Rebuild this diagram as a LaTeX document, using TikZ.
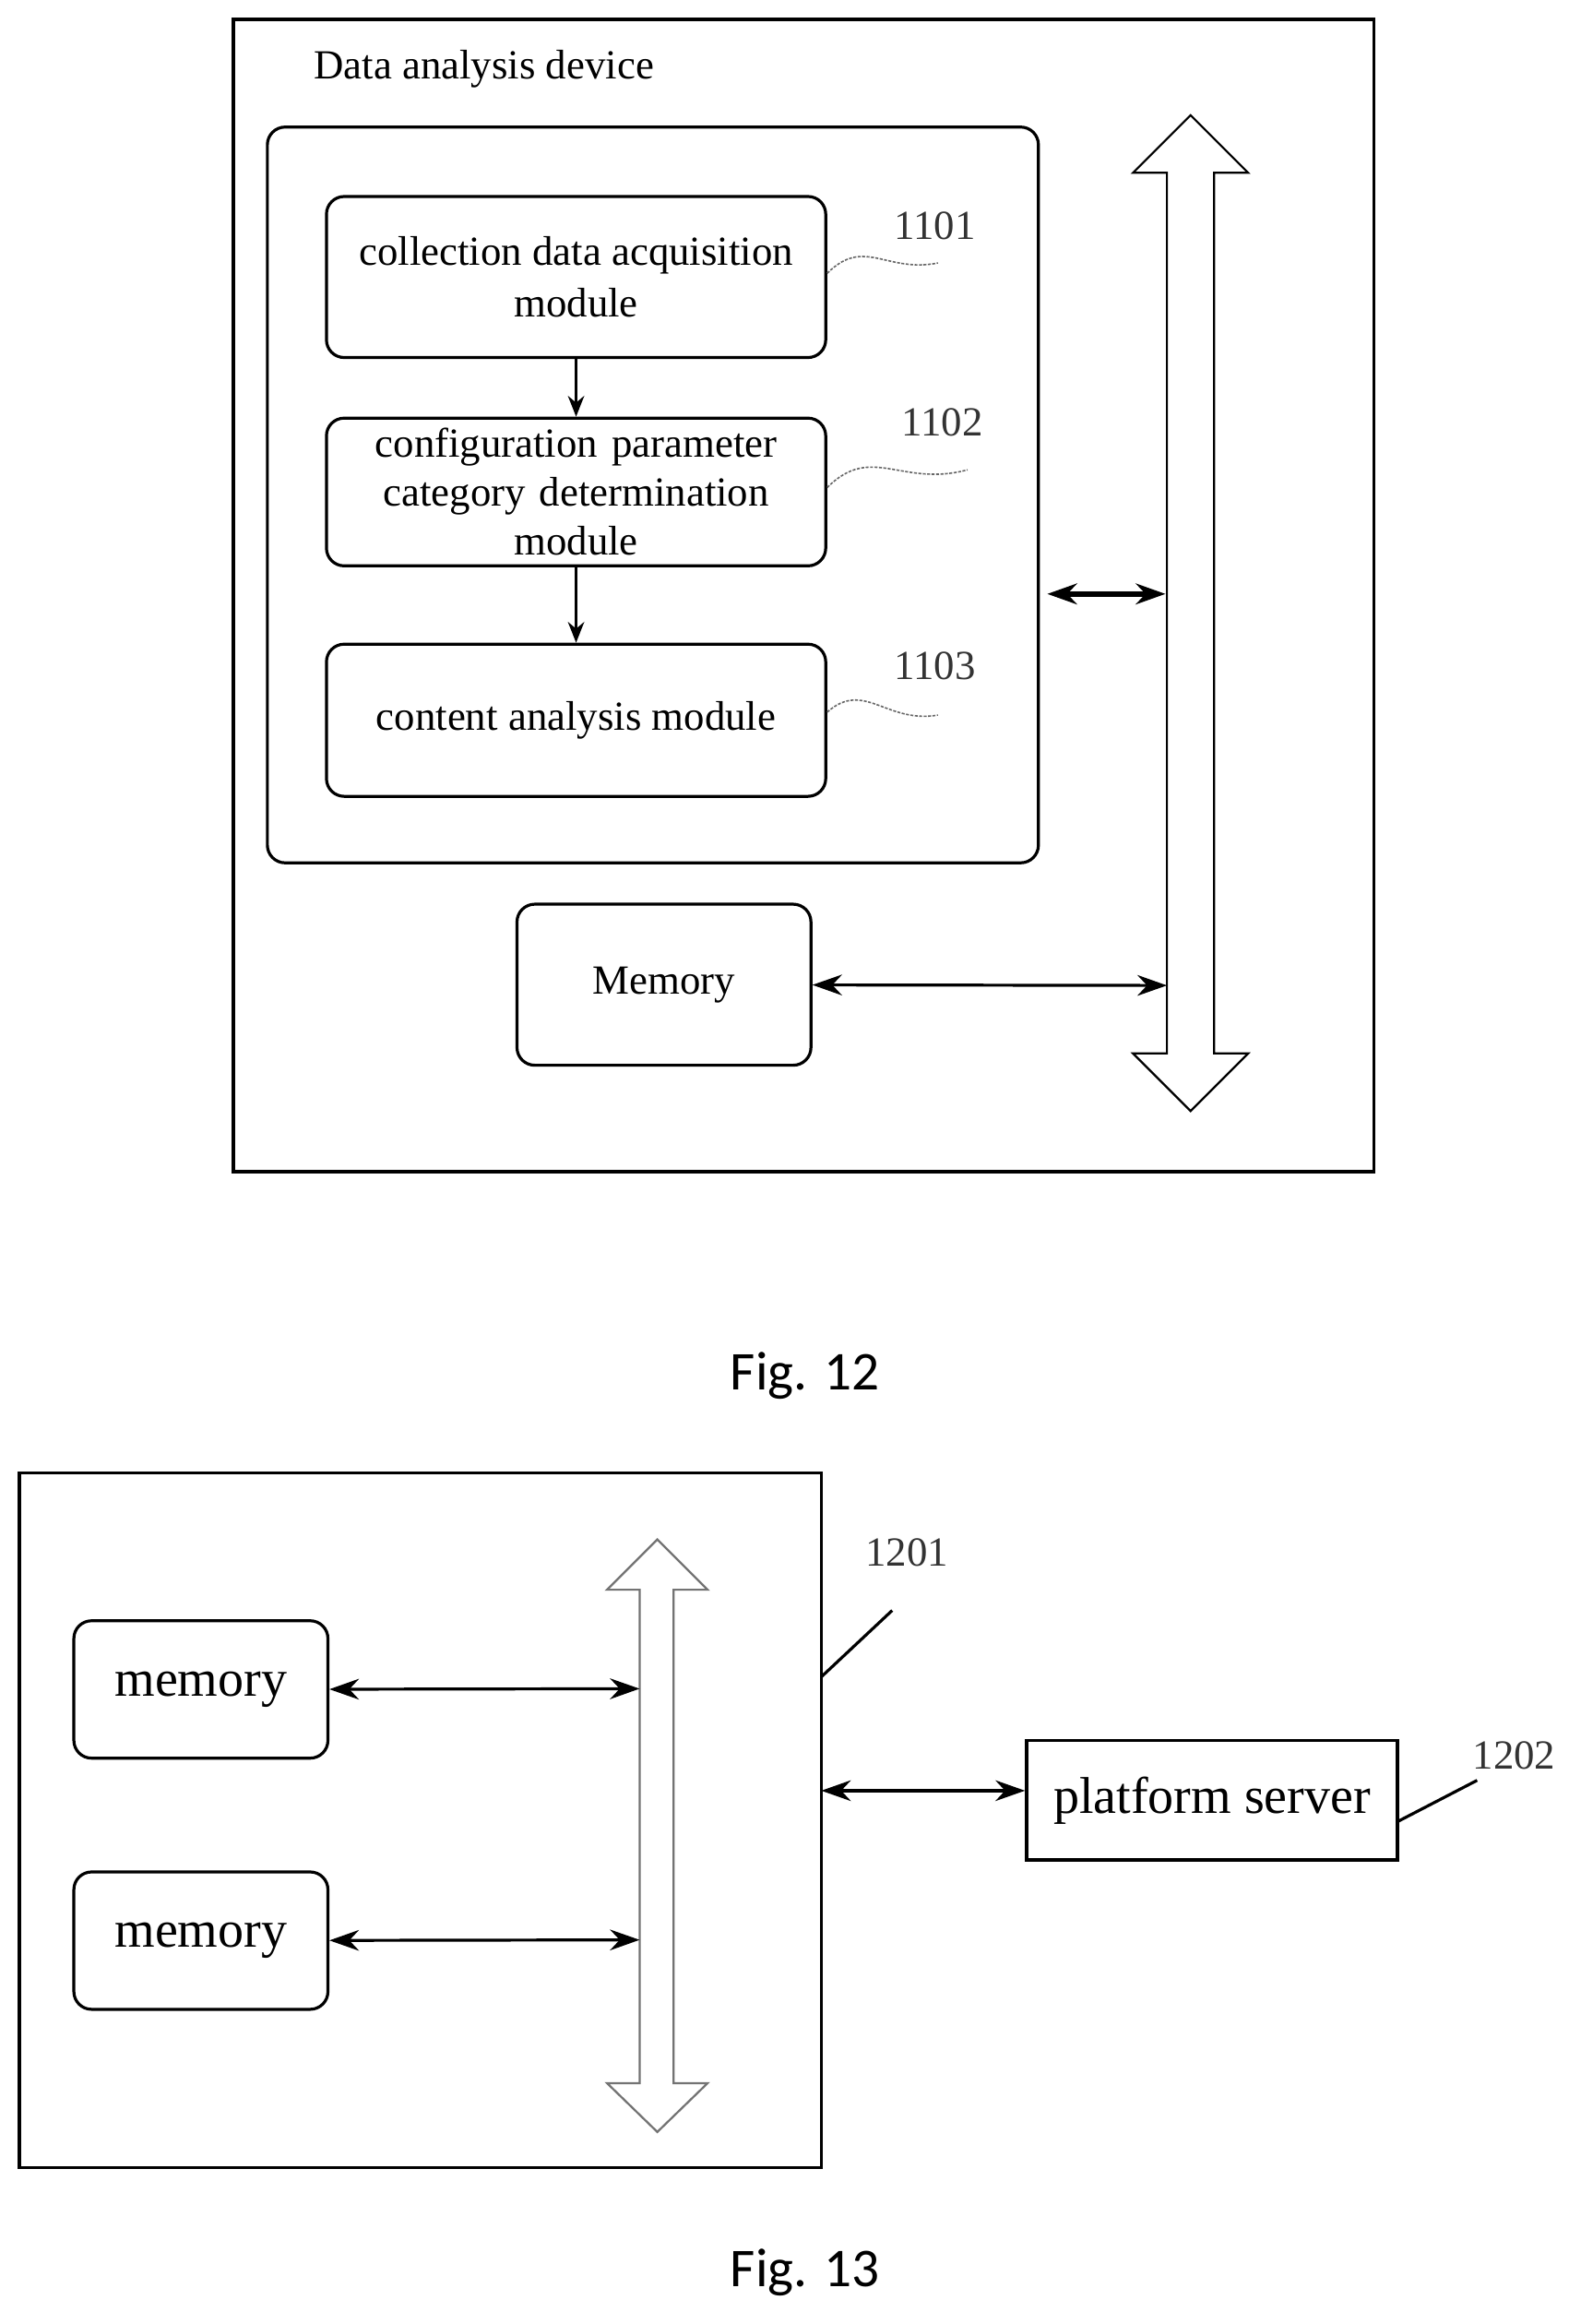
\documentclass[tikz,border=0pt]{standalone}
\usepackage{fontspec}
\setmainfont{Liberation Serif}
\newfontfamily\figfont{Carlito}
\usetikzlibrary{arrows.meta}
\begin{document}
\begin{tikzpicture}[x=1pt,y=-1pt,
  box/.style={draw,line width=2pt,rounded corners=12pt},
  sq/.style={draw,line width=2.2pt},
  txt/.style={font=\fontsize{28}{35}\selectfont,align=center},
  num/.style={font=\fontsize{28}{33}\selectfont,text=black!80},
  ar/.style={line width=2pt,{Stealth[length=20pt,width=14pt]}-{Stealth[length=20pt,width=14pt]}},
  one/.style={line width=2pt,-{Stealth[length=14pt,width=11pt]}},
  wig/.style={draw=black!60,line width=1pt,dashed,dash pattern=on 2pt off 1pt},
  figl/.style={font=\figfont\fontsize{37}{44}\selectfont}]
\useasboundingbox (0,0) rectangle (1070,1573);
% Fig 12
\draw[sq] (158,13) rectangle (930,793);
\node[txt,anchor=west] (title) at (209,47) {Data analysis device};
\draw[box] (181,86) rectangle (703,584);
\node[box,minimum width=338pt,minimum height=109pt,txt] (m1) at (390,187.5) {collection data acquisition\\module};
\node[box,minimum width=338pt,minimum height=100pt,txt,text width=330pt,font=\fontsize{28}{33}\selectfont] (m2) at (390,333) {configuration parameter\\category determination\\module};
\node[box,minimum width=338pt,minimum height=103pt,txt] (m3) at (390,487.5) {content analysis module};
\draw[one] (m1) -- (m2);
\draw[one] (m2) -- (m3);
\node[num] (n1) at (633,153) {1101};
\node[num] (n2) at (638,286) {1102};
\node[num] (n3) at (633,451) {1103};
\draw[wig] (560,185) .. controls (585,160) and (600,185) .. (635,178);
\draw[wig] (560,330) .. controls (590,300) and (610,330) .. (655,318);
\draw[wig] (560,482) .. controls (585,460) and (600,490) .. (635,484);
\node[box,minimum width=199pt,minimum height=109pt,txt] (mem) at (449.5,666.5) {Memory};
\draw[line width=1.4pt,fill=white] (790,117) -- (767,117) -- (806,78) -- (845,117) -- (822,117) -- (822,713) -- (845,713) -- (806,752) -- (767,713) -- (790,713) -- cycle;
\coordinate (b1) at (790,667);
\coordinate (b2) at (789,402);
\coordinate (c2) at (709,402);
\draw[ar] (mem) -- (b1);
\draw[ar,line width=3.5pt] (c2) -- (b2);
\node[figl] (f12) at (545,931) {Fig. 12};
% Fig 13
\draw[sq] (13,997) rectangle (556,1467);
\draw[line width=1.4pt,draw=black!55,fill=white] (433,1076) -- (411,1076) -- (445,1042) -- (479,1076) -- (456,1076) -- (456,1410) -- (479,1410) -- (445,1443) -- (411,1410) -- (433,1410) -- cycle;
\node[box,minimum width=172pt,minimum height=93pt,font=\fontsize{35}{42}\selectfont] (ma) at (136,1143.5) {memory};
\node[box,minimum width=172pt,minimum height=93pt,font=\fontsize{35}{42}\selectfont] (mb) at (136,1313.5) {memory};
\coordinate (ba) at (433,1143);
\coordinate (bb) at (433,1313);
\draw[ar] (ma) -- (ba);
\draw[ar] (mb) -- (bb);
\node[sq,minimum width=251pt,minimum height=81pt,font=\fontsize{35}{42}\selectfont] (ps) at (820.5,1218.5) {platform server};
\coordinate (o1) at (556,1212);
\draw[ar] (o1) -- (ps.west |- o1);
\node[num] (n4) at (614,1051) {1201};
\node[num] (n5) at (1025,1188) {1202};
\coordinate (l1) at (556,1135);
\coordinate (l2) at (604,1090);
\draw[line width=2pt] (l1) -- (l2);
\coordinate (l3) at (946,1233);
\coordinate (l4) at (1000,1205);
\draw[line width=2pt] (l3) -- (l4);
\node[figl] (f13) at (545,1538) {Fig. 13};
\end{tikzpicture}
\end{document}
